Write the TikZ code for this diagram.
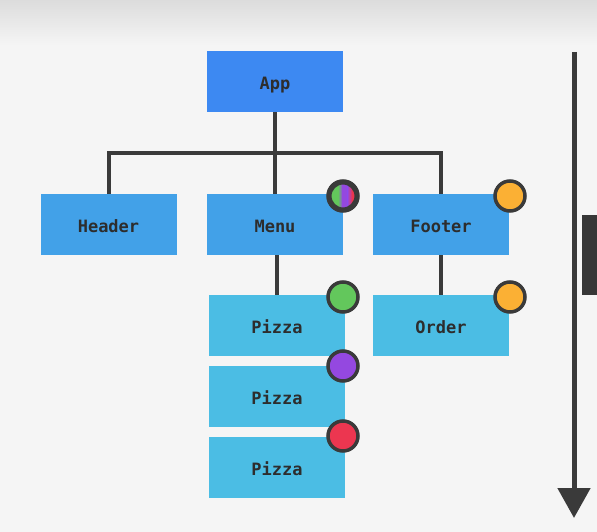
\documentclass[tikz,border=0pt]{standalone}
\usepackage{fontspec}
\setmonofont{DejaVu Sans Mono}
\usetikzlibrary{arrows.meta}
\definecolor{bgc}{HTML}{F5F5F5}
\definecolor{topc}{HTML}{DCDCDC}
\definecolor{appc}{HTML}{3D89F2}
\definecolor{midc}{HTML}{42A1E8}
\definecolor{lowc}{HTML}{4BBDE4}
\definecolor{linec}{HTML}{3A3A3A}
\definecolor{txtc}{HTML}{2D2D2D}
\definecolor{gr}{HTML}{63C75C}
\definecolor{pu}{HTML}{9448E0}
\definecolor{rd}{HTML}{EC3650}
\definecolor{orc}{HTML}{FBB034}
\tikzset{
  comp/.style={minimum width=136pt, minimum height=61pt, inner sep=0pt,
    text height=16pt, text depth=0pt,
    font=\ttfamily\bfseries\fontsize{17}{20}\selectfont, text=txtc},
  conn/.style={draw=linec, line width=4pt},
  dot/.style={circle, minimum size=30pt, inner sep=0pt, draw=linec, line width=3.5pt},
}
\begin{document}
\begin{tikzpicture}[x=1pt,y=-1pt]
\useasboundingbox (0,0) rectangle (597,532);
\fill[bgc] (0,0) rectangle (597,532);
\shade[top color=topc, bottom color=bgc] (0,0) rectangle (597,45);
% nodes
\node[comp, fill=appc] (app) at (275,81.5) {App};
\node[comp, fill=midc] (header) at (108.5,224.5) {Header};
\node[comp, fill=midc] (menu) at (275,224.5) {Menu};
\node[comp, fill=midc] (footer) at (441,224.5) {Footer};
\node[comp, fill=lowc] (pizza1) at (277,325.5) {Pizza};
\node[comp, fill=lowc] (pizza2) at (277,396.5) {Pizza};
\node[comp, fill=lowc] (pizza3) at (277,467) {Pizza};
\node[comp, fill=lowc] (order) at (441,325.5) {Order};
\coordinate (bar) at (275,153);
% connectors
\draw[conn] (app.south) -- (bar);
\draw[conn, line join=miter] (header.north) -- (header.north |- bar) -- (footer.north |- bar) -- (footer.north);
\draw[conn] (bar) -- (menu.north);
\draw[conn] (menu.south -| pizza1.north) -- (pizza1.north);
\draw[conn] (footer.south) -- (order.north);
% state dots
\node[dot] (dmenu) at (343,196) {};
\begin{scope}
  \clip (dmenu.center) circle (13.5pt);
  \fill[gr] (328,180) rectangle (338,212);
  \shade[left color=gr, right color=pu] (338,180) rectangle (342.5,212);
  \fill[pu] (342.4,180) rectangle (347.6,212);
  \shade[left color=pu, right color=rd] (347.5,180) rectangle (352,212);
  \fill[rd] (351.9,180) rectangle (358,212);
\end{scope}
\draw[linec, line width=3.5pt] (dmenu.center) circle (13.2pt);
\node[dot, fill=orc] (dfooter) at (510,196) {};
\node[dot, fill=gr] (dp1) at (343,297) {};
\node[dot, fill=pu] (dp2) at (343,366) {};
\node[dot, fill=rd] (dp3) at (343,436) {};
\node[dot, fill=orc] (dorder) at (510,297) {};
% time arrow
\coordinate (atop) at (574,52);
\coordinate (abot) at (574,518);
\draw[linec, line width=5pt, -{Triangle[length=30pt, width=32pt]}] (atop) -- (abot);
\fill[linec!95!black] (582,215) rectangle (597,295);
\end{tikzpicture}
\end{document}
